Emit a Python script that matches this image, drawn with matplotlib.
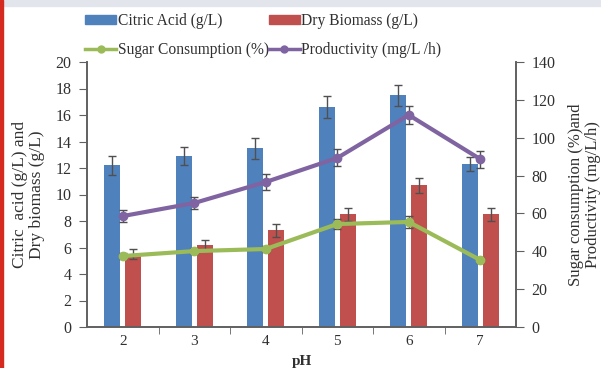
import numpy as np
import matplotlib
matplotlib.use("Agg")
import matplotlib.pyplot as plt
from matplotlib.patches import Rectangle, Patch
from matplotlib.lines import Line2D

# data
ph = ["2", "3", "4", "5", "6", "7"]
citric = [12.2, 12.9, 13.5, 16.6, 17.5, 12.3]
citric_err = [0.7, 0.7, 0.8, 0.8, 0.8, 0.55]
biomass = [5.5, 6.2, 7.3, 8.5, 10.7, 8.5]
biomass_err = [0.4, 0.4, 0.5, 0.5, 0.55, 0.5]
sugar = [37.5, 40.1, 41.2, 54.4, 55.5, 35.4]
sugar_err = [1.5, 1.5, 1.5, 2.5, 3.0, 1.5]
prod = [58.6, 65.5, 76.6, 89.3, 112.0, 88.7]
prod_err = [3.0, 3.0, 4.0, 4.5, 5.0, 4.5]

blue, red, green, purple = "#4F81BD", "#C0504D", "#9BBB59", "#8064A2"
txt = "#303030"
plt.rcParams["font.family"] = ["Liberation Serif", "DejaVu Serif"]

fig = plt.figure(figsize=(6.01, 3.68), dpi=100)
ax = fig.add_axes([87/601, 41/368, 429/601, 265/368])
ax2 = ax.twinx()

x = np.arange(len(ph))
w = 0.225
ekw = dict(ecolor="#505050", elinewidth=1, capsize=3, capthick=1)
ax.bar(x - 0.145, citric, w, color=blue, yerr=citric_err, error_kw=ekw)
ax.bar(x + 0.145, biomass, w, color=red, yerr=biomass_err, error_kw=ekw)

ax2.errorbar(x, sugar, yerr=sugar_err, color=green, lw=3, marker="o", ms=6, **ekw)
ax2.errorbar(x, prod, yerr=prod_err, color=purple, lw=3, marker="o", ms=6, **ekw)

ax.set_xlim(-0.5, 5.5)
ax.set_ylim(0, 20)
ax.set_yticks(range(0, 21, 2))
ax2.set_ylim(0, 140)
ax2.set_yticks(range(0, 141, 20))
ax.set_xticks(x)
ax.set_xticklabels(ph)
ax.set_xticks(x[:-1] + 0.5, minor=True)
ax.tick_params(axis="x", which="major", length=0, labelsize=11, colors=txt, pad=6)
ax.tick_params(axis="x", which="minor", length=5, color="#606060")
ax.tick_params(axis="y", length=6, labelsize=11.5, colors=txt, color="#606060", pad=5)
ax2.tick_params(axis="y", length=6, labelsize=11.5, colors=txt, color="#606060", pad=5)

for a in (ax, ax2):
    a.spines["top"].set_visible(False)
    for s in ("left", "right", "bottom"):
        a.spines[s].set_color("#606060")
        a.spines[s].set_linewidth(1.2)

ax.set_xlabel("pH", fontsize=11, fontweight="bold", color=txt, labelpad=5)
ax.set_ylabel("Citric  acid (g/L) and\nDry biomass (g/L)", fontsize=12.5,
              color=txt, labelpad=8, linespacing=1.05)
ax2.set_ylabel("Sugar consumption (%)and\nProductivity (mg/L/h)", fontsize=12,
               color=txt, labelpad=9, linespacing=1.1, rotation=90)

handles = [Patch(color=blue), Line2D([], [], color=green, lw=2.5, marker="o", ms=5),
           Patch(color=red), Line2D([], [], color=purple, lw=2.5, marker="o", ms=5)]
labels = ["Citric Acid (g/L)", "Sugar Consumption (%)",
          "Dry Biomass (g/L)", "Productivity (mg/L /h)"]
fig.legend(handles, labels, ncol=2, loc="upper left", bbox_to_anchor=(71/601, 1 + 1/368),
           frameon=False, fontsize=11.2, labelspacing=0.85, handlelength=2.0,
           handleheight=0.55, handletextpad=0.1, columnspacing=0.0, labelcolor=txt)

# page decorations around the crop
fig.patches.append(Rectangle((0, 1 - 6/368), 1, 6/368, transform=fig.transFigure,
                             color="#e2e6ec", zorder=0))
fig.patches.append(Rectangle((0, 0), 3/601, 1, transform=fig.transFigure,
                             color="#d42a20", zorder=5))

fig.savefig("out.png", dpi=100)
